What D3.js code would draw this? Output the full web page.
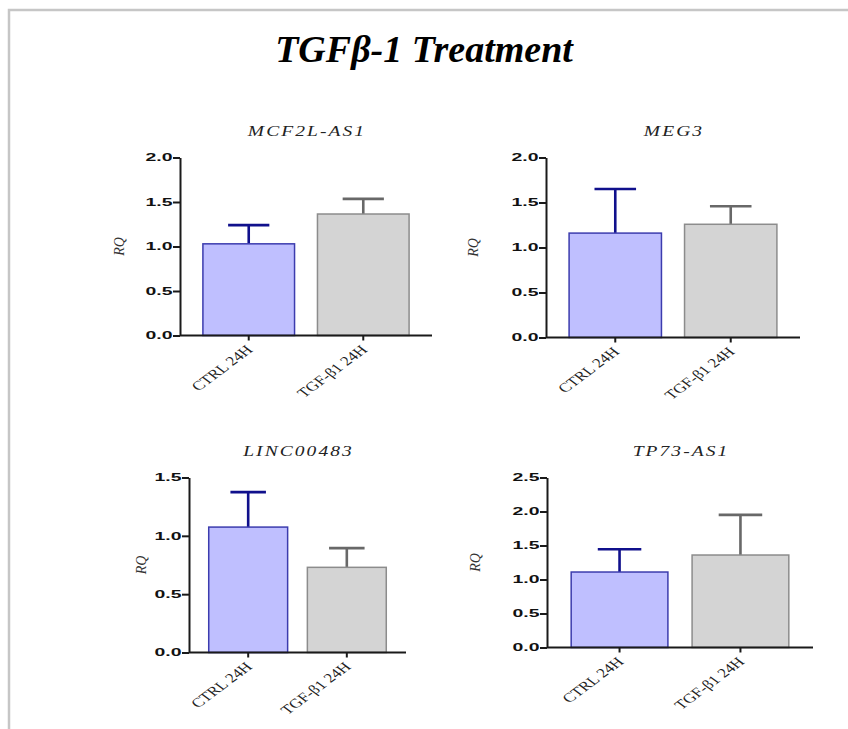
<!DOCTYPE html>
<html>
  <head>
    <meta charset="utf-8">
    <title>TGFb-1 Treatment</title>
    <script src="https://cdnjs.cloudflare.com/ajax/libs/d3/7.8.5/d3.min.js"></script>
    <style>
      body { margin: 0; background: #fff; }
    </style>
  </head>

  <body>
    <script type="text/javascript">
      // values
      var genes = ["MCF2L-AS1", "MEG3", "LINC00483", "TP73-AS1"];
      var groups = ["CTRL 24H", "TGF-\u03b21 24H"];
      var ctrlMean = [1.03, 1.16, 1.075, 1.11];
      var ctrlErr = [0.21, 0.49, 0.30, 0.335];
      var tgfMean = [1.365, 1.258, 0.73, 1.36];
      var tgfErr = [0.17, 0.20, 0.165, 0.59];
      var yMax = [2.0, 2.0, 1.5, 2.5];
      var yTicks = [
        [0, 0.5, 1.0, 1.5, 2.0],
        [0, 0.5, 1.0, 1.5, 2.0],
        [0, 0.5, 1.0, 1.5],
        [0, 0.5, 1.0, 1.5, 2.0, 2.5]
      ];

      // panel frames (pixels)
      var layout = [
        {x0: 180, x1: 432, top: 157.5, base: 335.5, rqX: 119, titleY: 136},
        {x0: 546, x1: 800, top: 157.5, base: 337.5, rqX: 473, titleY: 136},
        {x0: 189, x1: 406, top: 477.5, base: 652.5, rqX: 141, titleY: 456},
        {x0: 547, x1: 813, top: 477.5, base: 647.5, rqX: 475, titleY: 456}
      ];

      var fills = ["#bfbfff", "#d4d4d4"];
      var strokes = ["#3c3cae", "#8c8c8c"];
      var errColors = ["#10108c", "#686868"];

      var svg = d3.select("body").append("svg")
        .attr("width", 848)
        .attr("height", 729);

      // outer frame
      svg.append("path")
        .attr("d", "M9,729V10H848")
        .attr("fill", "none")
        .attr("stroke", "#c6c6c6")
        .attr("stroke-width", 2.5);

      svg.append("text")
        .attr("x", 424)
        .attr("y", 62)
        .attr("text-anchor", "middle")
        .style("font-family", "'Liberation Serif', serif")
        .style("font-weight", "bold")
        .style("font-style", "italic")
        .style("font-size", "38px")
        .text("TGF\u03b2-1 Treatment");

      genes.forEach(function(gene, i) {
        var L = layout[i];
        var g = svg.append("g");

        var x = d3.scaleBand()
          .domain(groups)
          .range([L.x0, L.x1])
          .paddingInner(0.2)
          .paddingOuter(0.2);

        var y = d3.scaleLinear()
          .domain([0, yMax[i]])
          .range([L.base, L.top]);

        var rows = [
          {grp: groups[0], mean: ctrlMean[i], err: ctrlErr[i], k: 0},
          {grp: groups[1], mean: tgfMean[i], err: tgfErr[i], k: 1}
        ];

        var bw = x.bandwidth();
        var cap = bw * 0.45;

        // error bars (upper only)
        g.selectAll(".err")
          .data(rows)
          .enter().append("path")
          .attr("d", function(d) {
            var cx = x(d.grp) + bw / 2;
            var yt = y(d.mean + d.err);
            return "M" + cx + "," + y(d.mean) + "V" + yt +
                   "M" + (cx - cap / 2) + "," + yt + "H" + (cx + cap / 2);
          })
          .attr("fill", "none")
          .attr("stroke", function(d) { return errColors[d.k]; })
          .attr("stroke-width", 2.6);

        g.selectAll(".bar")
          .data(rows)
          .enter().append("rect")
          .attr("x", function(d) { return x(d.grp); })
          .attr("y", function(d) { return y(d.mean); })
          .attr("width", bw)
          .attr("height", function(d) { return L.base - y(d.mean); })
          .attr("fill", function(d) { return fills[d.k]; })
          .attr("stroke", function(d) { return strokes[d.k]; })
          .attr("stroke-width", 1.5);

        // y axis
        var ya = g.append("g")
          .attr("transform", "translate(" + L.x0 + ",0)")
          .call(d3.axisLeft(y).tickValues(yTicks[i]).tickFormat(d3.format(".1f"))
                .tickSize(7).tickSizeOuter(0));
        ya.select(".domain").attr("stroke", "#1a1a1a").attr("stroke-width", 2);
        ya.selectAll(".tick line").attr("stroke", "#1a1a1a").attr("stroke-width", 2);
        ya.selectAll(".tick text")
          .attr("x", -7.5 / 1.85)
          .attr("transform", "scale(1.85,1)")
          .style("font-family", "'Liberation Sans', Arial, sans-serif")
          .style("font-weight", "bold")
          .style("font-size", "10.5px")
          .attr("fill", "#111");

        // x axis
        var xa = g.append("g")
          .attr("transform", "translate(0," + L.base + ")")
          .call(d3.axisBottom(x).tickSize(5).tickSizeOuter(0));
        xa.select(".domain").attr("stroke", "#1a1a1a").attr("stroke-width", 2)
          .attr("d", "M" + L.x0 + ",0H" + L.x1);
        xa.selectAll(".tick line").attr("stroke", "#1a1a1a").attr("stroke-width", 2);
        xa.selectAll(".tick text")
          .attr("x", null).attr("y", null).attr("dy", null)
          .attr("text-anchor", "end")
          .attr("transform", "translate(5,15) scale(1.34,1) rotate(-45)")
          .style("font-family", "'Liberation Serif', serif")
          .style("font-size", "13px")
          .attr("fill", "#222");

        // panel title (wide italic)
        g.append("text")
          .attr("transform", "translate(" + ((L.x0 + L.x1) / 2 + 1) + "," + L.titleY + ") scale(1.3,1)")
          .attr("text-anchor", "middle")
          .style("font-family", "'Liberation Serif', serif")
          .style("font-style", "italic")
          .style("font-size", "15px")
          .style("letter-spacing", "1.6px")
          .attr("fill", "#222")
          .text(gene);

        // RQ label
        g.append("text")
          .attr("transform", "translate(" + L.rqX + "," + (L.top + L.base) / 2 + ") rotate(-90)")
          .attr("text-anchor", "middle")
          .attr("dy", "0.35em")
          .style("font-family", "'Liberation Serif', serif")
          .style("font-style", "italic")
          .style("font-size", "14px")
          .attr("fill", "#333")
          .text("RQ");
      });
    </script>
  </body>
</html>
